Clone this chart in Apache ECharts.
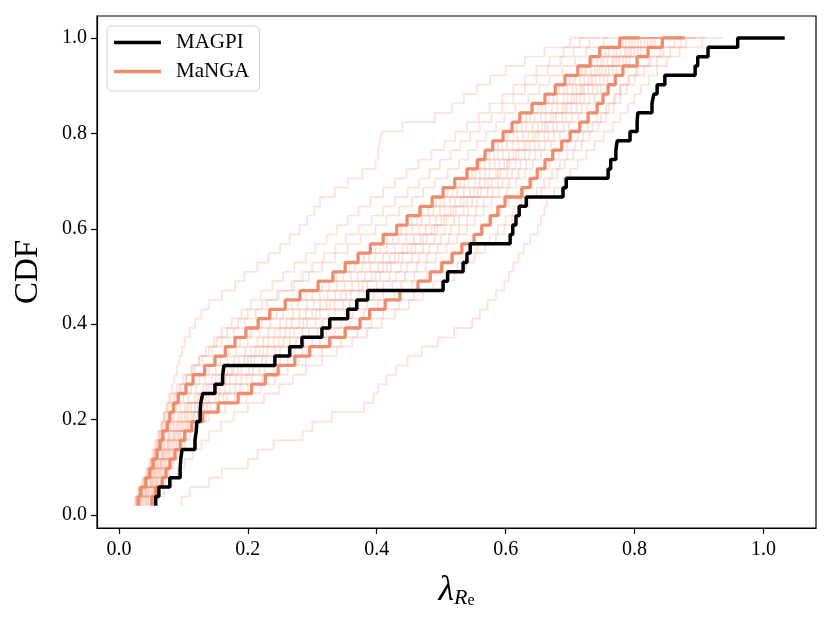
<!DOCTYPE html>
<html>
<head>
<meta charset="utf-8">
<script src="https://cdn.jsdelivr.net/npm/echarts@6/dist/echarts.min.js"></script>
<style>
  html, body { margin: 0; padding: 0; background: #fff; }
  #chart { width: 831px; height: 619px; }
</style>
</head>
<body>
<div id="chart"></div>
<script>
// number of galaxies per sample (steps of the CDF)
var N = 51;

// tick labels
var xTicks = [0.0, 0.2, 0.4, 0.6, 0.8, 1.0];
var yTicks = [0.0, 0.2, 0.4, 0.6, 0.8, 1.0];

// MAGPI: sorted lambda_Re values
var magpi = [0.057,0.062,0.079,0.095,0.096,0.098,0.118,0.120,0.121,0.126,
  0.127,0.130,0.149,0.161,0.163,0.242,0.265,0.284,0.315,0.327,
  0.355,0.369,0.386,0.503,0.510,0.534,0.540,0.545,0.607,0.611,
  0.616,0.621,0.632,0.689,0.694,0.759,0.763,0.771,0.773,0.793,
  0.804,0.805,0.827,0.830,0.835,0.847,0.894,0.898,0.914,0.960,1.033];

// MaNGA: the two highlighted samples
var mangaLow = [0.030,0.034,0.042,0.048,0.053,0.059,0.064,0.068,0.075,0.079,
  0.085,0.092,0.104,0.115,0.133,0.149,0.165,0.180,0.197,0.216,
  0.234,0.258,0.281,0.309,0.332,0.351,0.371,0.390,0.410,0.431,
  0.447,0.467,0.486,0.503,0.521,0.540,0.556,0.568,0.580,0.596,
  0.610,0.622,0.641,0.661,0.677,0.692,0.712,0.731,0.746,0.777,0.808];
var mangaHigh = [0.051,0.057,0.067,0.073,0.079,0.087,0.095,0.102,0.113,0.130,
  0.154,0.185,0.206,0.227,0.247,0.273,0.296,0.327,0.351,0.374,
  0.389,0.413,0.436,0.464,0.483,0.501,0.517,0.532,0.551,0.563,
  0.576,0.588,0.599,0.625,0.638,0.649,0.661,0.673,0.687,0.700,
  0.715,0.728,0.742,0.751,0.759,0.770,0.782,0.804,0.821,0.843,0.878];

// MaNGA: other matched samples (faint)
var mangaSamples = [
  [.028,.036,.040,.047,.055,.060,.063,.070,.078,.083,.090,.100,.112,.125,.140,.158,.170,.188,.205,.222,.245,.268,.290,.315,.338,.358,.380,.398,.415,.438,.455,.470,.492,.510,.530,.548,.560,.575,.588,.603,.618,.632,.650,.668,.683,.700,.718,.735,.755,.782,.812],
  [.033,.040,.048,.052,.058,.066,.070,.076,.084,.092,.102,.118,.131,.145,.160,.178,.196,.215,.232,.250,.270,.292,.312,.338,.360,.378,.398,.416,.434,.455,.470,.488,.505,.525,.542,.560,.575,.588,.602,.618,.632,.645,.662,.680,.695,.708,.725,.748,.768,.792,.825],
  [.036,.043,.052,.057,.064,.070,.076,.084,.092,.102,.112,.130,.148,.160,.178,.200,.218,.240,.258,.280,.300,.322,.345,.372,.392,.410,.428,.448,.468,.485,.500,.515,.530,.552,.568,.585,.598,.612,.628,.642,.657,.670,.688,.702,.716,.728,.742,.765,.785,.805,.835],
  [.040,.046,.055,.060,.066,.074,.080,.087,.098,.108,.122,.140,.156,.172,.190,.210,.230,.255,.272,.292,.312,.335,.360,.385,.405,.422,.440,.460,.478,.494,.508,.523,.540,.562,.578,.592,.605,.620,.637,.650,.665,.678,.695,.710,.722,.735,.750,.772,.792,.815,.848],
  [.043,.050,.058,.064,.070,.078,.085,.092,.103,.115,.132,.155,.172,.190,.208,.228,.250,.275,.295,.316,.335,.358,.382,.410,.430,.447,.465,.482,.500,.515,.528,.542,.556,.580,.595,.610,.623,.637,.652,.666,.680,.694,.710,.722,.735,.746,.760,.782,.800,.825,.858],
  [.046,.053,.062,.068,.074,.083,.090,.097,.108,.122,.142,.168,.188,.206,.226,.250,.272,.300,.322,.345,.362,.385,.410,.438,.458,.476,.492,.508,.525,.540,.552,.566,.578,.602,.616,.630,.642,.655,.670,.684,.698,.712,.726,.738,.748,.758,.772,.792,.810,.832,.868],
  [.055,.062,.072,.078,.085,.094,.102,.110,.122,.140,.165,.198,.220,.242,.262,.290,.315,.345,.370,.392,.410,.435,.458,.488,.508,.525,.540,.556,.575,.588,.600,.612,.624,.648,.660,.672,.684,.696,.708,.720,.735,.748,.760,.770,.778,.790,.802,.822,.840,.862,.895],
  [.025,.030,.036,.042,.047,.052,.056,.061,.066,.070,.075,.080,.090,.100,.112,.125,.140,.152,.168,.185,.200,.222,.245,.272,.295,.315,.335,.355,.375,.398,.415,.435,.455,.472,.490,.510,.528,.542,.555,.570,.585,.598,.615,.635,.652,.668,.688,.708,.725,.752,.782],
  [.030,.034,.040,.045,.050,.054,.058,.062,.066,.070,.074,.078,.082,.086,.090,.094,.098,.102,.110,.118,.128,.140,.160,.180,.195,.215,.232,.250,.265,.280,.292,.303,.312,.335,.355,.378,.398,.402,.405,.408,.440,.490,.517,.535,.555,.576,.600,.630,.660,.700,.726],
  [.026,.031,.038,.044,.049,.055,.060,.064,.068,.072,.078,.085,.094,.105,.118,.130,.145,.160,.178,.195,.212,.230,.248,.268,.285,.300,.318,.336,.352,.372,.392,.410,.428,.448,.466,.482,.498,.515,.530,.545,.560,.578,.595,.612,.630,.648,.665,.685,.705,.730,.760],
  [.097,.110,.140,.160,.200,.215,.240,.285,.300,.330,.380,.395,.402,.415,.430,.448,.470,.495,.520,.548,.560,.572,.585,.598,.605,.612,.620,.628,.638,.650,.655,.660,.664,.675,.690,.700,.712,.725,.738,.752,.766,.778,.790,.800,.810,.822,.835,.850,.870,.905,.937],
  [.060,.070,.082,.092,.102,.115,.128,.140,.158,.178,.200,.225,.248,.270,.290,.315,.338,.362,.385,.408,.428,.450,.472,.500,.520,.538,.552,.568,.585,.598,.610,.622,.636,.655,.668,.680,.692,.705,.718,.730,.744,.756,.768,.778,.788,.800,.815,.835,.855,.880,.912],
  [.035,.042,.050,.055,.062,.068,.075,.080,.090,.098,.108,.125,.140,.158,.175,.195,.212,.232,.250,.268,.290,.312,.335,.362,.382,.402,.420,.440,.458,.476,.492,.506,.522,.545,.560,.575,.590,.605,.620,.635,.650,.662,.680,.696,.710,.722,.738,.758,.778,.800,.832],
  [.042,.048,.057,.062,.068,.076,.083,.090,.100,.112,.128,.150,.165,.182,.202,.222,.242,.265,.285,.305,.325,.348,.372,.400,.420,.438,.455,.472,.490,.506,.520,.535,.548,.572,.588,.602,.615,.630,.645,.660,.674,.688,.702,.716,.728,.740,.755,.776,.795,.820,.852],
  [.027,.032,.039,.046,.051,.056,.061,.066,.071,.076,.082,.088,.096,.104,.114,.124,.135,.148,.160,.175,.190,.205,.220,.238,.255,.272,.290,.305,.322,.338,.355,.372,.390,.410,.428,.446,.465,.485,.505,.522,.540,.558,.575,.595,.612,.630,.648,.668,.690,.715,.745],
  [.050,.058,.068,.075,.082,.090,.098,.106,.118,.135,.155,.180,.200,.222,.240,.262,.285,.312,.335,.358,.380,.402,.428,.455,.478,.498,.515,.532,.550,.565,.578,.592,.605,.628,.642,.655,.668,.682,.696,.712,.728,.742,.756,.768,.778,.792,.805,.825,.845,.872,.905],
  [.031,.037,.044,.050,.056,.061,.068,.072,.080,.086,.095,.108,.120,.134,.150,.168,.182,.200,.218,.235,.255,.278,.300,.326,.348,.366,.388,.406,.425,.446,.462,.480,.498,.518,.536,.553,.568,.582,.595,.612,.625,.638,.656,.674,.690,.704,.722,.742,.760,.786,.818],
  [.038,.045,.053,.058,.065,.072,.078,.086,.095,.105,.118,.135,.152,.166,.185,.205,.224,.248,.265,.286,.306,.328,.352,.378,.398,.416,.434,.454,.472,.490,.504,.519,.535,.557,.573,.588,.602,.616,.632,.646,.661,.674,.692,.706,.719,.732,.746,.768,.788,.810,.842],
  [.045,.052,.060,.066,.072,.080,.088,.095,.106,.118,.137,.162,.180,.198,.218,.240,.262,.288,.308,.330,.350,.372,.396,.424,.444,.462,.478,.495,.512,.528,.540,.554,.566,.590,.605,.620,.632,.646,.661,.675,.690,.703,.718,.730,.742,.752,.766,.787,.805,.828,.862],
  [.034,.041,.049,.054,.060,.067,.072,.078,.087,.095,.105,.122,.136,.150,.168,.186,.204,.224,.242,.260,.280,.302,.324,.350,.371,.390,.410,.428,.446,.466,.482,.498,.514,.535,.552,.568,.583,.596,.611,.627,.642,.655,.672,.690,.704,.716,.732,.752,.772,.796,.828]
];

var salmon = '#ef8b6c';
var font = 'Liberation Serif';

// pair each sorted value with its CDF level
function cdf(xs) {
  return xs.map(function (x, i) { return [x, (i + 1) / N]; });
}

var series = [];

// faint samples first, underneath
mangaSamples.forEach(function (s) {
  series.push({
    name: 'samples',
    type: 'line',
    step: 'start',
    symbol: 'none',
    silent: true,
    data: cdf(s),
    lineStyle: { color: salmon, width: 1.8, opacity: 0.24 },
    z: 1
  });
});

[mangaLow, mangaHigh].forEach(function (s) {
  series.push({
    name: 'MaNGA',
    type: 'line',
    step: 'start',
    symbol: 'none',
    color: salmon,
    data: cdf(s),
    lineStyle: { color: salmon, width: 3.3 },
    z: 2
  });
});

series.push({
  name: 'MAGPI',
  type: 'line',
  step: 'start',
  symbol: 'none',
  color: '#000',
  data: cdf(magpi),
  lineStyle: { color: '#000', width: 3.5 },
  z: 3
});

var chart = echarts.init(document.getElementById('chart'));

var option = {
  animation: false,
  backgroundColor: '#fff',
  textStyle: { fontFamily: font },
  grid: {
    left: 97, right: 15, top: 16, bottom: 91,
    show: true, borderColor: '#000', borderWidth: 1.2,
    outerBoundsMode: 'none'
  },
  legend: {
    data: ['MAGPI', 'MaNGA'],
    orient: 'vertical',
    left: 107, top: 26,
    icon: 'rect',
    itemWidth: 47, itemHeight: 3.3,
    itemGap: 8,
    padding: [6, 10, 9, 7],
    borderColor: '#d0d0d0', borderWidth: 1, borderRadius: 5,
    backgroundColor: '#fff',
    textStyle: { fontFamily: font, fontSize: 21, color: '#000', padding: [0, 0, 0, 10] }
  },
  xAxis: {
    type: 'value',
    min: -0.034, max: 1.0815,
    axisLine: { show: true, onZero: false, lineStyle: { color: '#000', width: 1.2 } },
    axisTick: { show: true, length: 6, customValues: xTicks, lineStyle: { color: '#000', width: 1.2 } },
    axisLabel: {
      customValues: xTicks, color: '#000', fontSize: 20, fontFamily: font, margin: 12,
      formatter: function (v) { return v.toFixed(1); }
    },
    splitLine: { show: false },
    name: '{l|λ}{r|R}{e|e}',
    nameLocation: 'middle',
    nameGap: 31,
    nameTextStyle: {
      rich: {
        l: { fontSize: 36, fontStyle: 'italic', fontFamily: font, lineHeight: 50, verticalAlign: 'bottom', color: '#000' },
        r: { fontSize: 22, fontStyle: 'italic', fontFamily: font, lineHeight: 32, verticalAlign: 'bottom', color: '#000' },
        e: { fontSize: 16, fontFamily: font, lineHeight: 22, verticalAlign: 'bottom', color: '#000' }
      }
    }
  },
  yAxis: {
    type: 'value',
    min: -0.027, max: 1.046,
    axisLine: { show: true, onZero: false, lineStyle: { color: '#000', width: 1.2 } },
    axisTick: { show: true, length: 6, customValues: yTicks, lineStyle: { color: '#000', width: 1.2 } },
    axisLabel: {
      customValues: yTicks, color: '#000', fontSize: 20, fontFamily: font, margin: 10,
      formatter: function (v) { return v.toFixed(1); }
    },
    splitLine: { show: false },
    name: 'CDF',
    nameLocation: 'middle',
    nameRotate: 90,
    nameGap: 52,
    nameTextStyle: { fontSize: 33, fontFamily: font, color: '#000' }
  },
  series: series
};

chart.setOption(option);
</script>
</body>
</html>
